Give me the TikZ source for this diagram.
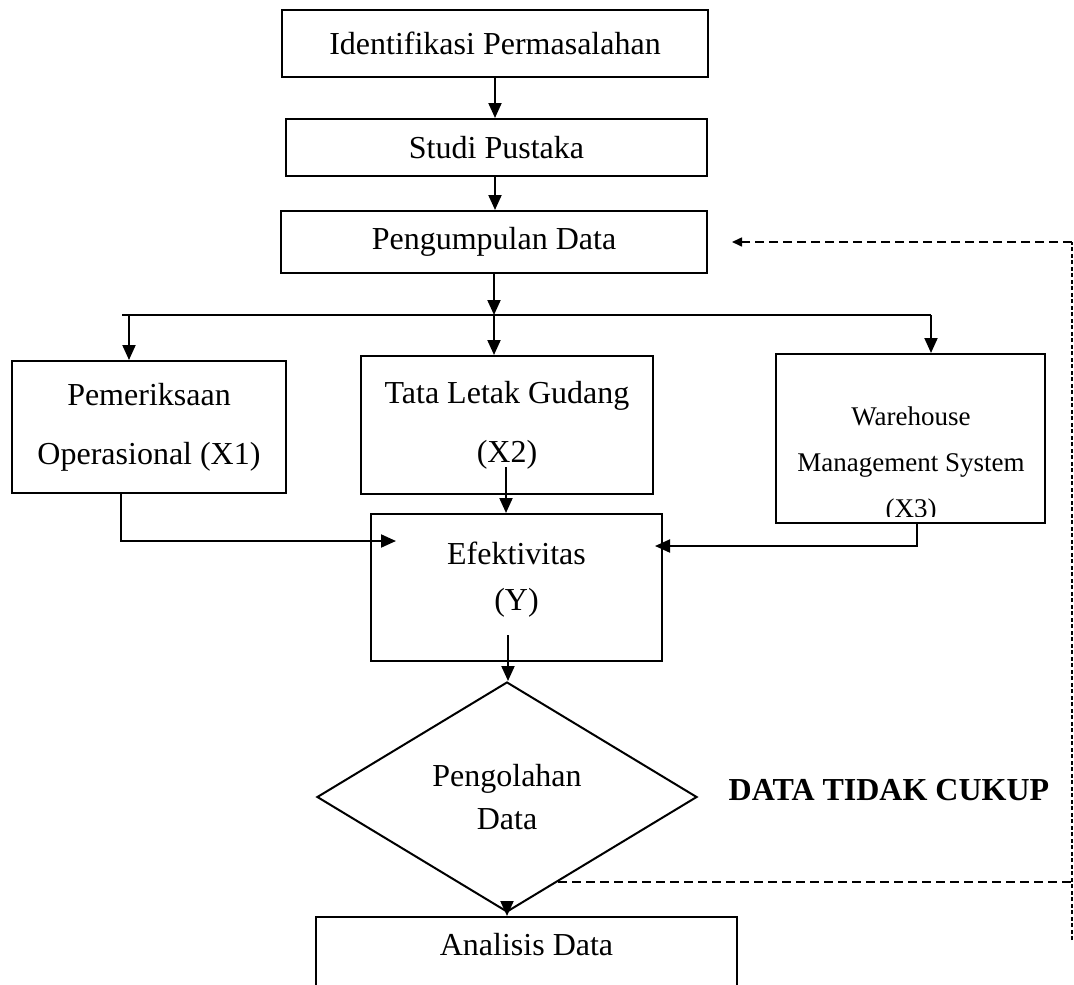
\documentclass[tikz,border=0pt]{standalone}
\usepackage{amsmath}
\usepackage{fontspec}
\setmainfont{Liberation Serif}
\usetikzlibrary{shapes.geometric,arrows.meta}

\begin{document}
\begin{tikzpicture}[x=1pt, y=-1pt, line width=2pt,
        >={Triangle[length=15pt,width=13pt]},
        box/.style={draw, rectangle, inner sep=0pt, align=center, font=\fontsize{32}{59}\selectfont},
        dash line/.style={line width=1.6pt, dash pattern=on 9pt off 5pt}]
        \clip (0, 0) rectangle (1074, 985);
        \path (495, 43.5) node[box, minimum width=426pt, minimum height=67pt](ident) {Identifikasi Permasalahan}
            (496.5, 147.5) node[box, minimum width=421pt, minimum height=57pt](studi) {Studi Pustaka}
            (494, 242) node[box, minimum width=426pt, minimum height=62pt](kumpul) {Pengumpulan Data}
            (149, 427) node[box, minimum width=274pt, minimum height=132pt](periksa) {Pemeriksaan\\Operasional (X1)}
            (507, 425) node[box, minimum width=292pt, minimum height=138pt](tata) {Tata Letak Gudang\\(X2)}
            (910.5, 438.5) node[box, minimum width=269pt, minimum height=169pt](wms) {}
            (516.5, 587.5) node[box, minimum width=291pt, minimum height=147pt, text depth=23pt, font=\fontsize{32}{46}\selectfont](efek) {Efektivitas\\(Y)}
            (507, 797) node[box, diamond, minimum width=380pt, minimum height=230pt, aspect=1.65, font=\fontsize{32}{43}\selectfont](olah) {Pengolahan\\Data}
            (526.5, 916) node[box, anchor=north, minimum width=421pt, minimum height=200pt](analisis) {}
            (526.5, 945) node[font=\fontsize{32}{38}\selectfont](analisisTxt) {Analisis Data}
            (889, 790) node[font=\fontsize{32}{38}\selectfont\bfseries](tidak) {DATA TIDAK CUKUP};
        \begin{scope}
            \clip (wms.north west) rectangle ([yshift=8pt]wms.south east);
            \path (911, 465) node[align=center, font=\fontsize{27}{46}\selectfont](wmsTxt) {Warehouse\\Management System\\(X3)};
        \end{scope}
        \coordinate (busL) at (122, 315);
        \coordinate (busR) at (931, 315);
        \coordinate (b1) at (129, 315);
        \coordinate (b2) at (494, 315);
        \coordinate (tataOut) at (506, 467);
        \coordinate (x1end) at (396, 541);
        \coordinate (x3end) at (655, 546);
        \coordinate (efekOut) at (508, 635);
        \coordinate (loopBot) at (1072, 940);
        \coordinate (loopTop) at (1072, 242);
        \coordinate (kumpulIn) at (732, 242);
        \draw[->] (ident.south) -- (ident.south |- studi.north);
        \draw[->] (ident.south |- studi.south) -- (ident.south |- kumpul.north);
        \draw[->] (b2 |- kumpul.south) -- (b2);
        \draw (busL) -- (busR);
        \draw[->] (b1) -- (b1 |- periksa.north);
        \draw[->] (b2) -- (b2 |- tata.north);
        \draw[->] (busR) -- (busR |- wms.north);
        \draw[->] (tataOut) -- (tataOut |- efek.north);
        \draw[->] ([xshift=-28pt]periksa.south) |- (x1end);
        \draw[->] ([xshift=6.5pt]wms.south) |- (x3end);
        \draw[->] (efekOut) -- (efekOut |- olah.north);
        \draw[->] (olah.south) -- (olah.south |- analisis.north);
        \draw[dash line] (olah.-59.6) -- (olah.-59.6 -| loopBot);
        \draw[dash line, dash pattern=on 4pt off 2.5pt] (loopBot) -- (loopTop);
        \draw[dash line, ->, >={Triangle[length=10pt,width=9pt]}] (loopTop) -- (kumpulIn);
    \end{tikzpicture}
\end{document}
